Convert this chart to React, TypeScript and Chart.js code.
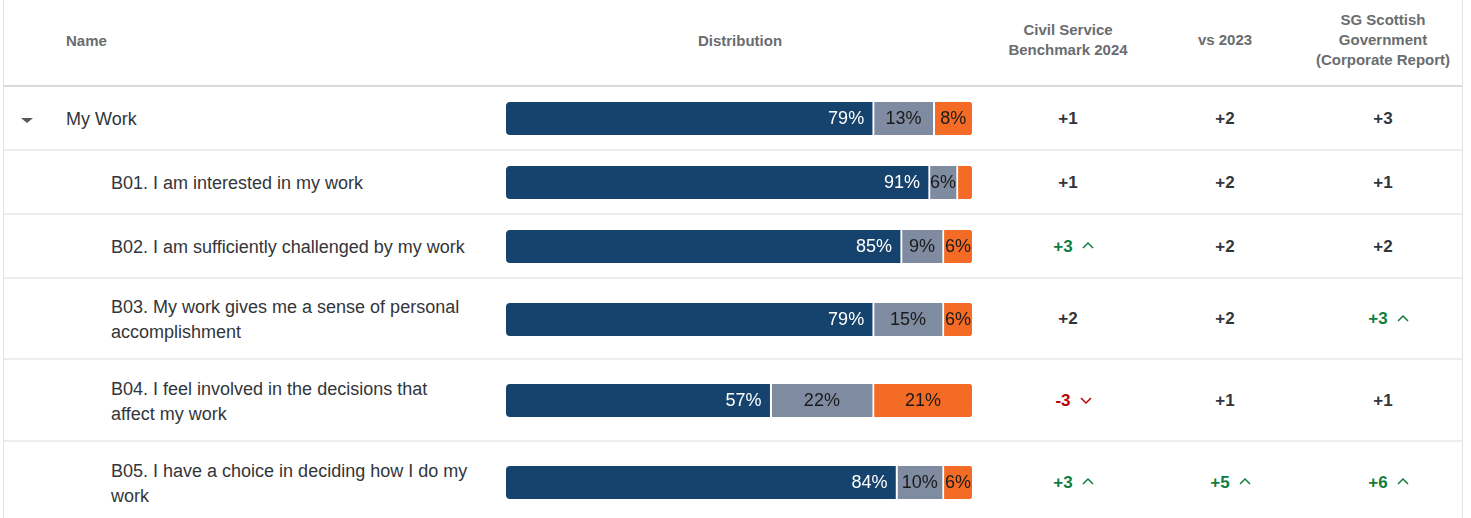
import React, { useEffect, useRef } from "react";
import { Chart, registerables } from "chart.js";

Chart.register(...registerables);

// ---------- data ----------
const rowNames: string[] = [
  "My Work",
  "B01. I am interested in my work",
  "B02. I am sufficiently challenged by my work",
  "B03. My work gives me a sense of personal accomplishment",
  "B04. I feel involved in the decisions that affect my work",
  "B05. I have a choice in deciding how I do my work",
];
const rowLevel: number[] = [0, 1, 1, 1, 1, 1];

const positivePct: number[] = [79, 91, 85, 79, 57, 84];
const neutralPct: number[] = [13, 6, 9, 15, 22, 10];
const negativePct: number[] = [8, 3, 6, 6, 21, 6];

const benchmark2024: number[] = [1, 1, 3, 2, -3, 3];
const benchmarkSig: number[] = [0, 0, 1, 0, -1, 1];
const vs2023: number[] = [2, 2, 2, 2, 1, 5];
const vs2023Sig: number[] = [0, 0, 0, 0, 0, 1];
const sgCorporate: number[] = [3, 1, 2, 3, 1, 6];
const sgCorporateSig: number[] = [0, 0, 0, 1, 0, 1];

const headerName = "Name";
const headerDist = "Distribution";
const headerCols: string[][] = [
  ["Civil Service", "Benchmark 2024"],
  ["vs 2023"],
  ["SG Scottish", "Government", "(Corporate Report)"],
];

// ---------- styles / layout ----------
const NAVY = "#15436d";
const GREY = "#7f8ba0";
const ORANGE = "#f36b24";
const TEXT = "#32363a";
const HEAD = "#6a6d70";
const GREEN = "#107e3e";
const RED = "#bb0000";
const FONT = '"Liberation Sans", Arial, sans-serif';

const rowTops = [87, 151, 215, 279, 360, 442];
const rowHeights = [63, 63, 63, 80, 81, 81];
const lineYs = [150, 214, 278, 359, 441];
const colCenters = [1068, 1225, 1383];
const BAR_LEFT = 506;
const BAR_W = 466;
const BAR_H = 33;

const segLabelPlugin = {
  id: "segLabels",
  afterDatasetsDraw(chart: any) {
    const ctx = chart.ctx as CanvasRenderingContext2D;
    chart.data.datasets.forEach((ds: any, di: number) => {
      const meta = chart.getDatasetMeta(di);
      meta.data.forEach((el: any, i: number) => {
        const v = ds.data[i];
        const { x, y, base } = el.getProps(["x", "y", "base"], true);
        const left = Math.min(x, base);
        const right = Math.max(x, base);
        const gap = di < 2 ? 2 : 0;
        const segW = right - left - gap;
        const text = v + "%";
        ctx.save();
        ctx.font = "18px " + FONT;
        const tw = ctx.measureText(text).width;
        if (tw <= segW + 1) {
          ctx.textBaseline = "middle";
          if (di === 0) {
            ctx.fillStyle = "#ffffff";
            ctx.textAlign = "right";
            ctx.fillText(text, right - gap - 8, y + 1);
          } else {
            ctx.fillStyle = "#1a1a1a";
            ctx.textAlign = "center";
            ctx.fillText(text, left + segW / 2, y + 1);
          }
        }
        ctx.restore();
      });
    });
  },
};

function DistBar({ idx }: { idx: number }) {
  const ref = useRef<HTMLCanvasElement>(null);
  useEffect(() => {
    const chart = new Chart(ref.current as HTMLCanvasElement, {
      type: "bar",
      data: {
        labels: [rowNames[idx]],
        datasets: [
          {
            label: "Positive",
            data: [positivePct[idx]],
            backgroundColor: NAVY,
            borderColor: "#ffffff",
            borderWidth: { top: 0, left: 0, bottom: 0, right: 2 },
            borderSkipped: false,
            borderRadius: { topLeft: 4, bottomLeft: 4, topRight: 0, bottomRight: 0 },
          },
          {
            label: "Neutral",
            data: [neutralPct[idx]],
            backgroundColor: GREY,
            borderColor: "#ffffff",
            borderWidth: { top: 0, left: 0, bottom: 0, right: 2 },
            borderSkipped: false,
            borderRadius: 0,
          },
          {
            label: "Negative",
            data: [negativePct[idx]],
            backgroundColor: ORANGE,
            borderWidth: 0,
            borderSkipped: false,
            borderRadius: { topLeft: 0, bottomLeft: 0, topRight: 4, bottomRight: 4 },
          },
        ] as any,
      },
      options: {
        indexAxis: "y",
        responsive: true,
        maintainAspectRatio: false,
        animation: false,
        devicePixelRatio: 1,
        layout: { padding: 0 },
        plugins: { legend: { display: false }, tooltip: { enabled: false } },
        scales: {
          x: { stacked: true, display: false, min: 0, max: 100 },
          y: { stacked: true, display: false },
        },
        datasets: { bar: { barPercentage: 1, categoryPercentage: 1 } },
      } as any,
      plugins: [segLabelPlugin],
    });
    return () => chart.destroy();
  }, [idx]);
  const center = rowTops[idx] + rowHeights[idx] / 2;
  return (
    <div
      style={{
        position: "absolute",
        left: BAR_LEFT,
        top: Math.round(center - BAR_H / 2),
        width: BAR_W,
        height: BAR_H,
      }}
    >
      <canvas ref={ref} />
    </div>
  );
}

function Chevron({ up, color }: { up: boolean; color: string }) {
  return (
    <svg width="12" height="8" viewBox="0 0 12 8" style={{ display: "block", marginTop: up ? -3 : 0 }}>
      <polyline
        points={up ? "1,7 6,2 11,7" : "1,1 6,6 11,1"}
        fill="none"
        stroke={color}
        strokeWidth="1.5"
      />
    </svg>
  );
}

function fmt(v: number) {
  return v > 0 ? "+" + v : String(v);
}

function ValueCell({ value, sig, cx, top, h }: { value: number; sig: number; cx: number; top: number; h: number }) {
  const color = sig > 0 ? GREEN : sig < 0 ? RED : TEXT;
  if (sig === 0) {
    return (
      <div
        style={{
          position: "absolute",
          left: cx - 60,
          width: 120,
          top,
          height: h,
          display: "flex",
          alignItems: "center",
          justifyContent: "center",
          font: "bold 17px " + FONT,
          color,
        }}
      >
        {fmt(value)}
      </div>
    );
  }
  return (
    <div
      style={{
        position: "absolute",
        left: cx - 60 + 5.5,
        width: 120,
        top,
        height: h,
        display: "flex",
        alignItems: "center",
        justifyContent: "center",
        gap: 9,
        font: "bold 17px " + FONT,
        color,
      }}
    >
      <span>{fmt(value)}</span>
      <Chevron up={sig > 0} color={color} />
    </div>
  );
}

export default function App() {
  const valueCols = [
    [benchmark2024, benchmarkSig],
    [vs2023, vs2023Sig],
    [sgCorporate, sgCorporateSig],
  ];
  return (
    <div
      style={{
        position: "absolute",
        left: 0,
        top: 0,
        width: 1471,
        height: 518,
        overflow: "hidden",
        background: "#ffffff",
        fontFamily: FONT,
      }}
    >
      {/* borders */}
      <div style={{ position: "absolute", left: 3, top: 0, width: 1, height: 518, background: "#e2e2e2" }} />
      <div style={{ position: "absolute", left: 1462, top: 0, width: 1, height: 518, background: "#e2e2e2" }} />
      <div style={{ position: "absolute", left: 4, top: 85, width: 1458, height: 2, background: "#dadada" }} />
      {lineYs.map((y, i) => (
        <div key={i} style={{ position: "absolute", left: 4, top: y - 1, width: 1458, height: 2, background: "#ededed" }} />
      ))}

      {/* header */}
      <div style={{ position: "absolute", left: 66, top: 0, height: 80, display: "flex", alignItems: "center", font: "bold 15px " + FONT, color: HEAD }}>
        {headerName}
      </div>
      <div style={{ position: "absolute", left: 640, width: 200, top: 0, height: 80, display: "flex", alignItems: "center", justifyContent: "center", font: "bold 15px " + FONT, color: HEAD }}>
        {headerDist}
      </div>
      {headerCols.map((lines, c) => (
        <div
          key={c}
          style={{
            position: "absolute",
            left: colCenters[c] - 80,
            width: 160,
            top: 0,
            height: 80,
            display: "flex",
            flexDirection: "column",
            alignItems: "center",
            justifyContent: "center",
            font: "bold 15px " + FONT,
            lineHeight: "20px",
            color: HEAD,
            textAlign: "center",
          }}
        >
          {lines.map((l, k) => (
            <div key={k} style={{ whiteSpace: "nowrap" }}>{l}</div>
          ))}
        </div>
      ))}

      {/* rows */}
      {rowNames.map((name, i) => (
        <React.Fragment key={i}>
          {rowLevel[i] === 0 && (
            <div
              style={{
                position: "absolute",
                left: 21,
                top: rowTops[i] + rowHeights[i] / 2 - 1,
                width: 0,
                height: 0,
                borderLeft: "6px solid transparent",
                borderRight: "6px solid transparent",
                borderTop: "5px solid #555a5e",
              }}
            />
          )}
          <div
            style={{
              position: "absolute",
              left: rowLevel[i] === 0 ? 66 : 111,
              width: 360,
              top: rowTops[i] + 1,
              height: rowHeights[i],
              display: "flex",
              alignItems: "center",
              font: "18px " + FONT,
              lineHeight: "25px",
              color: TEXT,
            }}
          >
            <div>{name}</div>
          </div>
          <DistBar idx={i} />
          {valueCols.map(([vals, sigs], c) => (
            <ValueCell key={c} value={vals[i]} sig={sigs[i]} cx={colCenters[c]} top={rowTops[i]} h={rowHeights[i]} />
          ))}
        </React.Fragment>
      ))}
    </div>
  );
}
